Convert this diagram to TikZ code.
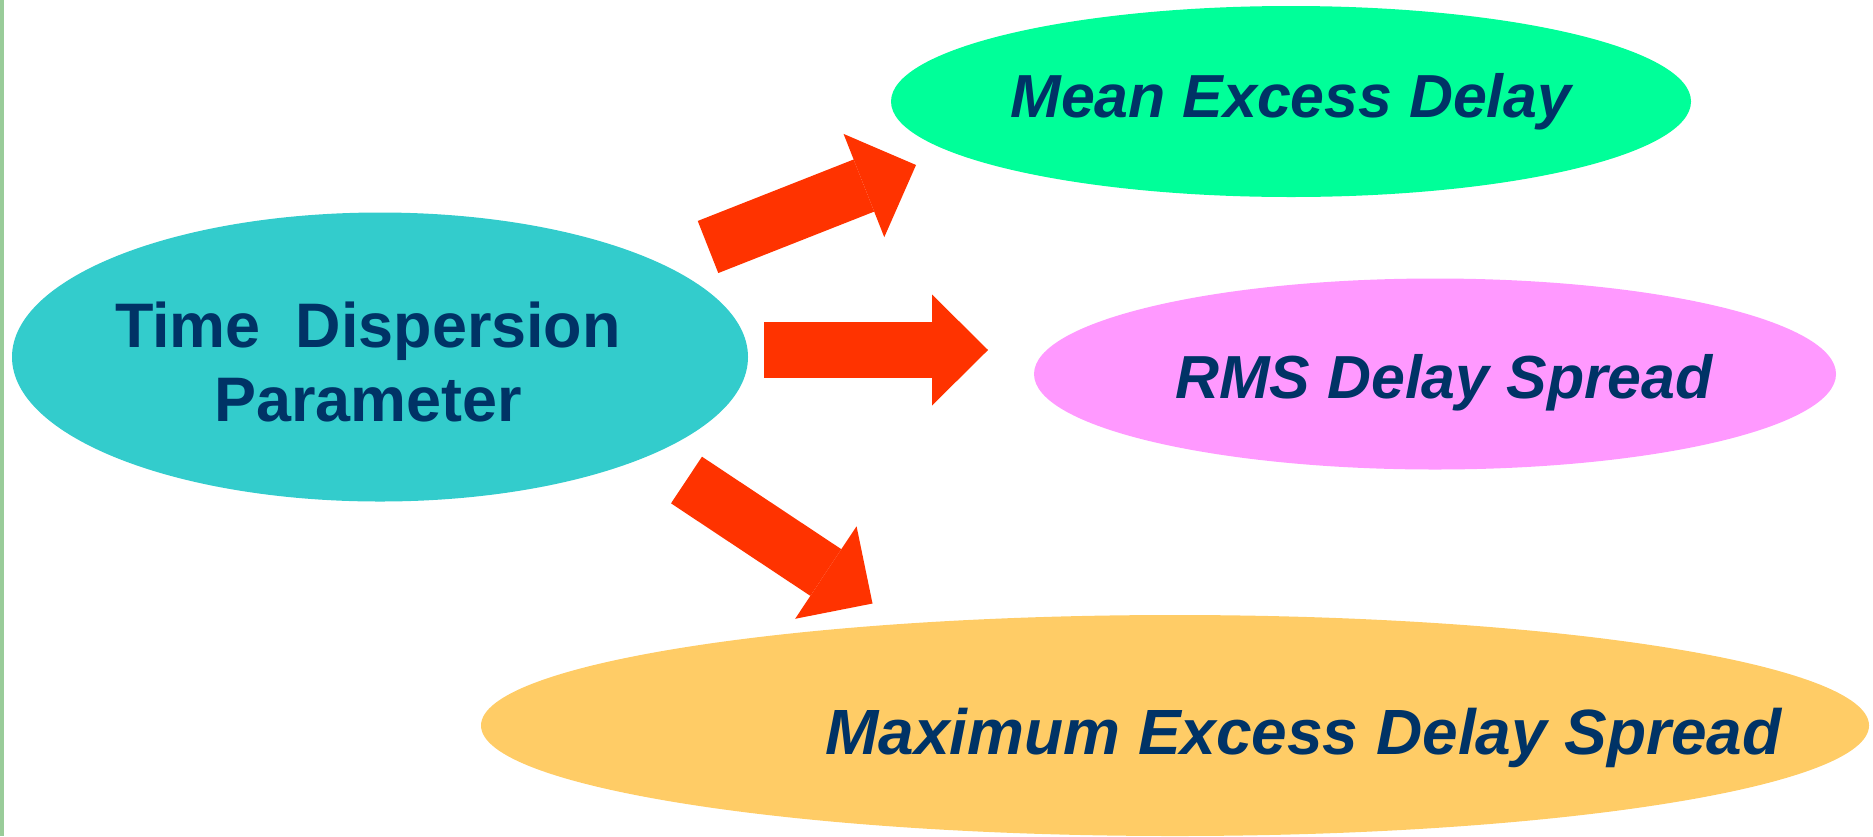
\documentclass[tikz,border=0pt]{standalone}
\usepackage{fontspec}
\setmainfont{Liberation Sans}
\usetikzlibrary{shapes.geometric,arrows.meta}
\definecolor{barcolor}{HTML}{99CC99}
\definecolor{textblue}{HTML}{003366}
\definecolor{arrowred}{HTML}{FF3300}
\definecolor{cyanfill}{HTML}{33CCCC}
\definecolor{greenfill}{HTML}{00FF99}
\definecolor{pinkfill}{HTML}{FF99FF}
\definecolor{orangefill}{HTML}{FFCC66}
\tikzset{
  blob/.style={ellipse, inner sep=0pt, text=textblue,
    font=\fontsize{17.3}{21.3}\selectfont\bfseries\itshape},
  fatarrow/.style={color=arrowred, line width=5.6mm,
    -{Triangle[length=5.6mm, width=11.1mm, line width=0pt]}}
}
\begin{document}
\begin{tikzpicture}[x=0.1mm, y=-0.1mm]
          \useasboundingbox (0,0) rectangle (1873,836);
          \fill[barcolor] (0,0) rectangle (4,836);
          \node[blob, fill=cyanfill, minimum width=73.6mm, minimum height=28.9mm] at (380,357) (tdp) {};
          \node[align=center, text=textblue, font=\fontsize{17.9}{21.3}\selectfont\bfseries] at (368,362) (tdptext) {Time\ \ Dispersion\\Parameter};
          \node[blob, fill=greenfill, minimum width=80mm, minimum height=19.1mm] at (1291,101.5) (med) {Mean Excess Delay};
          \node[blob, fill=pinkfill, minimum width=80.2mm, minimum height=19.1mm] at (1435,374) (rms) {};
          \node[blob, anchor=base] at (1444,398) (rmstext) {RMS Delay Spread};
          \node[blob, fill=orangefill, minimum width=138.8mm, minimum height=22.1mm] at (1175,725.5) (mxd) {};
          \node[blob, anchor=base, font=\fontsize{18.2}{21.3}\selectfont\bfseries\itshape] at (1303.5,754) (mxdtext) {Maximum Excess Delay Spread};
          \coordinate (med-from) at (708,247);
          \coordinate (med-to) at (916,165);
          \coordinate (rms-from) at (764,350);
          \coordinate (rms-to) at (988,350);
          \coordinate (mxd-from) at (686.5,480);
          \coordinate (mxd-to) at (872.5,603.5);
          \draw[fatarrow] (med-from) -- (med-to);
          \draw[fatarrow] (rms-from) -- (rms-to);
          \draw[fatarrow] (mxd-from) -- (mxd-to);
        \end{tikzpicture}
\end{document}
